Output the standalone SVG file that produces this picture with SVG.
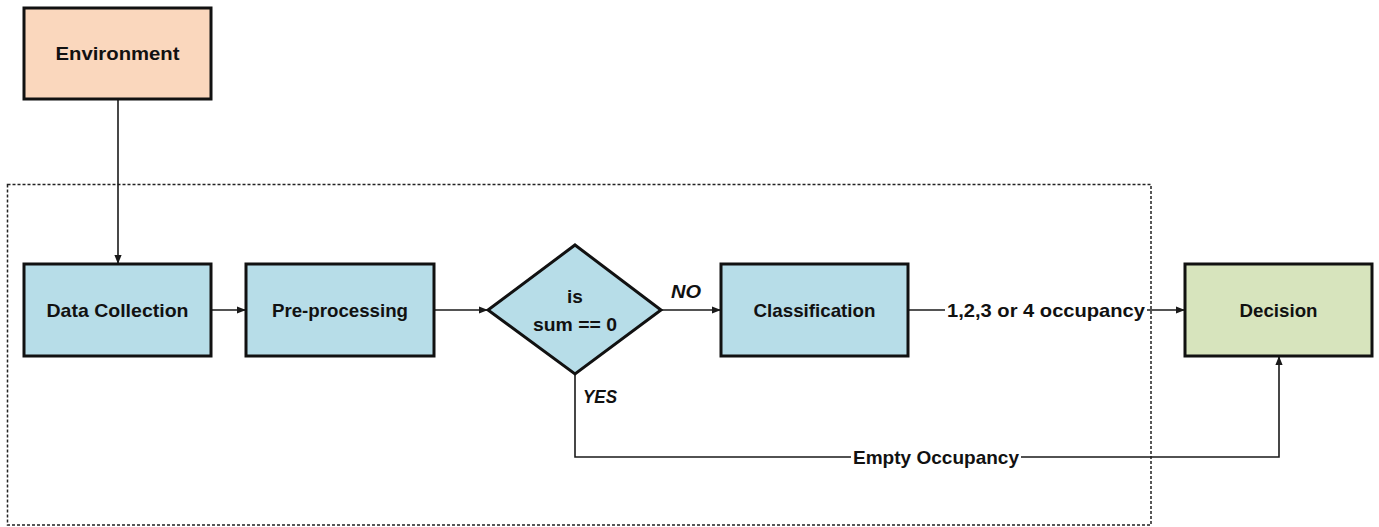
<svg xmlns="http://www.w3.org/2000/svg" width="1379" height="527" viewBox="0 0 1379 527">
<defs>
<marker id="arr" viewBox="0 0 10 10" refX="10" refY="5" markerWidth="9" markerHeight="9" markerUnits="userSpaceOnUse" orient="auto">
<path d="M0,1 L10,5 L0,9 Z" fill="#1a1a1a"/>
</marker>
<style>
.box{stroke:#111;stroke-width:3}
.blue{fill:#B7DDE8}
.peach{fill:#FAD7BD}
.green{fill:#D7E4BD}
.t{font-family:"Liberation Sans",Arial,sans-serif;font-weight:bold;font-size:19px;fill:#111;text-anchor:middle;dominant-baseline:central}
.c{fill:none;stroke:#1a1a1a;stroke-width:1.6}
</style>
</defs>
<rect x="0" y="0" width="1379" height="527" fill="#fff"/>
<rect id="boundary" x="7.5" y="184.5" width="1143.5" height="340.5" fill="none" stroke="#222" stroke-width="1.5" stroke-dasharray="3 2"/>
<g id="connectors">
<path class="c" d="M118,99 L118,264" marker-end="url(#arr)"/>
<path class="c" d="M211,310 L246,310" marker-end="url(#arr)"/>
<path class="c" d="M434,310 L488,310" marker-end="url(#arr)"/>
<path class="c" d="M661,310 L721,310" marker-end="url(#arr)"/>
<path class="c" d="M908,310 L945,310"/>
<path class="c" d="M1147,310 L1185,310" marker-end="url(#arr)"/>
<path class="c" d="M575,374 L575,457 L851,457"/>
<path class="c" d="M1021,457 L1279,457 L1279,356" marker-end="url(#arr)"/>
<text class="t" x="686" y="291" font-style="italic" textLength="30" lengthAdjust="spacingAndGlyphs">NO</text>
<text class="t" x="600" y="396" font-style="italic" textLength="34" lengthAdjust="spacingAndGlyphs">YES</text>
<text class="t" x="1046" y="310" textLength="198" lengthAdjust="spacingAndGlyphs">1,2,3 or 4 occupancy</text>
<text class="t" x="936" y="457" textLength="166" lengthAdjust="spacingAndGlyphs">Empty Occupancy</text>
</g>
<g id="environment">
<rect class="box peach" x="24" y="8" width="187" height="91"/>
<text class="t" x="117.5" y="53" textLength="124" lengthAdjust="spacingAndGlyphs">Environment</text>
</g>
<g id="data-collection">
<rect class="box blue" x="24" y="264" width="187" height="92"/>
<text class="t" x="117.5" y="310" textLength="142" lengthAdjust="spacingAndGlyphs">Data Collection</text>
</g>
<g id="pre-processing">
<rect class="box blue" x="246" y="264" width="188" height="92"/>
<text class="t" x="340" y="310" textLength="136" lengthAdjust="spacingAndGlyphs">Pre-processing</text>
</g>
<g id="decision-sum">
<polygon class="box blue" points="575,245 661,310 575,374 488,310" stroke-width="2.5"/>
<text class="t" x="575" y="296">is</text>
<text class="t" x="575" y="324" textLength="84" lengthAdjust="spacingAndGlyphs">sum == 0</text>
</g>
<g id="classification">
<rect class="box blue" x="721" y="264" width="187" height="92"/>
<text class="t" x="814.5" y="310" textLength="122" lengthAdjust="spacingAndGlyphs">Classification</text>
</g>
<g id="decision">
<rect class="box green" x="1185" y="264" width="187" height="92"/>
<text class="t" x="1278.5" y="310" textLength="78" lengthAdjust="spacingAndGlyphs">Decision</text>
</g>
</svg>
